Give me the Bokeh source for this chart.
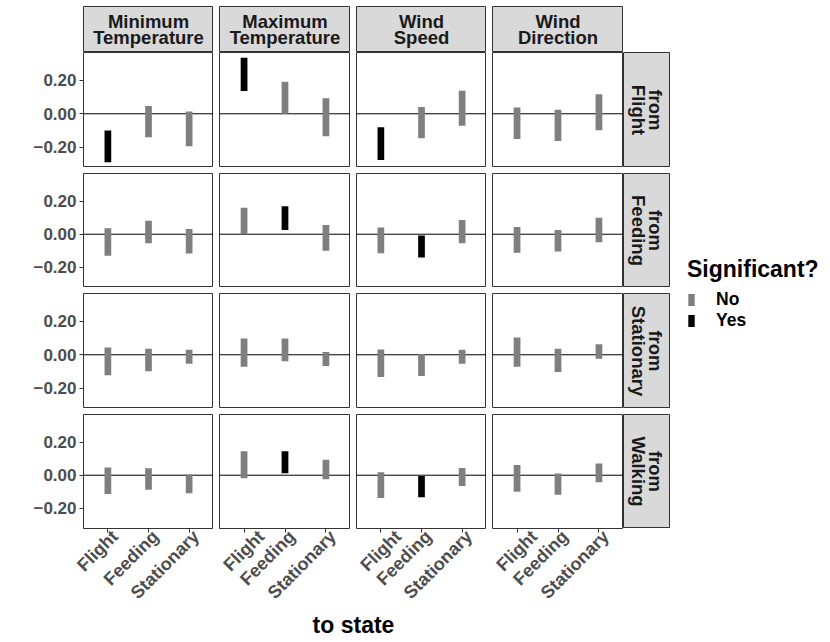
import math
from bokeh.plotting import figure
from bokeh.models import (Range1d, Span, FixedTicker, ColumnDataSource,
                          Legend, LegendItem, Spacer, LinearAxis)
from bokeh.layouts import row, column
from bokeh.embed import file_html
from bokeh.resources import INLINE
from bokeh.core.properties import value

# ---------------- data ----------------
to_states = ["Flight", "Feeding", "Stationary"]
from_states = ["Flight", "Feeding", "Stationary", "Walking"]
covariates = ["Minimum Temperature", "Maximum Temperature", "Wind Speed", "Wind Direction"]
y_ticks = [-0.2, 0.0, 0.2]
y_tick_labels = ["\u22120.20", "0.00", "0.20"]
sig_levels = ["No", "Yes"]

# per from-state: one list per covariate (values for to-states Flight, Feeding, Stationary)
lower_from_flight = [[-0.290, -0.140, -0.194], [0.136, 0.000, -0.134],
                     [-0.276, -0.146, -0.072], [-0.150, -0.162, -0.098]]
upper_from_flight = [[-0.100, 0.046, 0.014], [0.334, 0.192, 0.092],
                     [-0.080, 0.040, 0.138], [0.038, 0.024, 0.116]]
sig_from_flight = [["Yes", "No", "No"], ["Yes", "No", "No"],
                   ["Yes", "No", "No"], ["No", "No", "No"]]

lower_from_feeding = [[-0.130, -0.054, -0.116], [0.000, 0.026, -0.100],
                      [-0.114, -0.140, -0.054], [-0.112, -0.104, -0.048]]
upper_from_feeding = [[0.036, 0.082, 0.032], [0.160, 0.168, 0.056],
                      [0.040, -0.008, 0.086], [0.044, 0.026, 0.100]]
sig_from_feeding = [["No", "No", "No"], ["No", "Yes", "No"],
                    ["No", "Yes", "No"], ["No", "No", "No"]]

lower_from_stationary = [[-0.123, -0.099, -0.053], [-0.071, -0.038, -0.067],
                         [-0.133, -0.127, -0.053], [-0.071, -0.103, -0.024]]
upper_from_stationary = [[0.044, 0.036, 0.030], [0.097, 0.097, 0.016],
                         [0.032, 0.004, 0.030], [0.103, 0.036, 0.063]]
sig_from_stationary = [["No", "No", "No"], ["No", "No", "No"],
                       ["No", "No", "No"], ["No", "No", "No"]]

lower_from_walking = [[-0.113, -0.087, -0.109], [-0.018, 0.012, -0.024],
                      [-0.137, -0.133, -0.065], [-0.099, -0.117, -0.042]]
upper_from_walking = [[0.046, 0.042, 0.004], [0.145, 0.145, 0.093],
                      [0.018, -0.004, 0.044], [0.061, 0.010, 0.071]]
sig_from_walking = [["No", "No", "No"], ["No", "Yes", "No"],
                    ["No", "Yes", "No"], ["No", "No", "No"]]

lower_all = [lower_from_flight, lower_from_feeding, lower_from_stationary, lower_from_walking]
upper_all = [upper_from_flight, upper_from_feeding, upper_from_stationary, upper_from_walking]
sig_all = [sig_from_flight, sig_from_feeding, sig_from_stationary, sig_from_walking]

# ---------------- style ----------------
FONT = "Liberation Sans"
SIG_COLORS = {"No": "#7F7F7F", "Yes": "#000000"}
COL_W = [130, 131, 130, 131]
ROW_H = [115, 114, 115, 114]
LEFT_AXIS_W = 83
BOTTOM_AXIS_H = 82
GAP = 6
TOP_PAD = 6
STRIP_TOP_H = 46
STRIP_RIGHT_W = 47
LEGEND_GAP = 17
LEGEND_TOP = 256
Y_MIN, Y_MAX = -0.321, 0.366
PAD = 0.6                # discrete-scale expansion on each side (in category units)
BAR_W = 0.165
LABEL_SHIFT_PX = 7       # rotated labels are anchored by their top corner
TICK_COLOR = "#333333"
LABEL_COLOR = "#4D4D4D"
STRIP_FILL = "#D9D9D9"
BORDER = "#333333"

N_CAT = len(to_states)
cat_pos = [k + 1 for k in range(N_CAT)]       # discrete positions 1..n
label_of = {c: s for c, s in zip(cat_pos, to_states)}


def style_axis(ax, size):
    ax.axis_line_color = None
    ax.major_tick_line_color = TICK_COLOR
    ax.major_tick_out = 4
    ax.major_tick_in = 0
    ax.minor_tick_line_color = None
    ax.major_label_text_font = FONT
    ax.major_label_text_font_style = "bold"
    ax.major_label_text_font_size = size
    ax.major_label_text_color = LABEL_COLOR
    ax.major_label_standoff = 3


def make_panel(lo, hi, sig, w, h, left, bottom):
    x0, x1 = 1 - PAD, N_CAT + PAD
    p = figure(x_range=Range1d(x0, x1), y_range=Range1d(Y_MIN, Y_MAX),
               frame_width=w, frame_height=h,
               output_backend="svg", toolbar_location=None,
               x_axis_location="below" if bottom else None,
               y_axis_location="left" if left else None,
               min_border=0,
               min_border_left=LEFT_AXIS_W if left else 0,
               min_border_bottom=BOTTOM_AXIS_H if bottom else 0)
    p.background_fill_color = "white"
    p.border_fill_color = "white"
    p.outline_line_color = BORDER
    p.outline_line_width = 1
    p.grid.grid_line_color = None
    src = ColumnDataSource(dict(x=cat_pos, state=to_states, bottom=lo, top=hi,
                                color=[SIG_COLORS[s] for s in sig]))
    p.add_layout(Span(location=0, dimension="width", line_color="black",
                      line_width=1, level="underlay"))
    p.vbar(x="x", bottom="bottom", top="top", width=BAR_W, color="color",
           line_color=None, source=src)
    if left:
        ax = p.yaxis[0]
        ax.ticker = FixedTicker(ticks=y_ticks)
        ax.major_label_overrides = {t: l for t, l in zip(y_ticks, y_tick_labels)}
        style_axis(ax, "17px")
    if bottom:
        # axis with the tick marks only
        ax = p.xaxis[0]
        ax.ticker = FixedTicker(ticks=cat_pos)
        style_axis(ax, "0px")
        ax.major_label_standoff = 0
        ax.major_label_text_alpha = 0
        # label axis, nudged so the rotated labels end at the tick (top-right anchoring)
        d = LABEL_SHIFT_PX / (w / (x1 - x0))
        p.extra_x_ranges = {"lab": Range1d(x0 - d, x1 - d)}
        lab = LinearAxis(x_range_name="lab", ticker=FixedTicker(ticks=cat_pos),
                         major_label_overrides=label_of)
        style_axis(lab, "18px")
        lab.major_tick_out = 0
        lab.major_tick_line_color = None
        lab.major_label_standoff = 1
        lab.major_label_orientation = math.pi / 4
        p.add_layout(lab, "below")
    return p


def make_strip(label, w, h, angle):
    s = figure(width=w, height=h, x_range=Range1d(0, 1), y_range=Range1d(0, 1),
               output_backend="svg", toolbar_location=None,
               x_axis_location=None, y_axis_location=None, min_border=0)
    s.grid.grid_line_color = None
    s.background_fill_color = STRIP_FILL
    s.border_fill_color = "white"
    s.outline_line_color = BORDER
    s.outline_line_width = 1
    s.text(x=[0.5], y=[0.5], text=[label], angle=angle,
           text_align="center", text_baseline="middle",
           text_font=value(FONT), text_font_style="bold",
           text_font_size="18.5px", text_color="#1A1A1A", text_line_height=0.77)
    return s


def make_text_fig(label, w, h, x, y, align, size):
    t = figure(width=w, height=h, x_range=Range1d(0, w), y_range=Range1d(0, h),
               output_backend="svg", toolbar_location=None,
               x_axis_location=None, y_axis_location=None, min_border=0)
    t.grid.grid_line_color = None
    t.outline_line_color = None
    t.text(x=[x], y=[y], text=[label], text_align=align, text_baseline="alphabetic",
           text_font=value(FONT), text_font_style="bold", text_font_size=size,
           text_color="black")
    return t


# top strips
top_strips = [make_strip(c.replace(" ", "\n"), COL_W[j], STRIP_TOP_H, 0)
              for j, c in enumerate(covariates)]
top_row = row(Spacer(width=LEFT_AXIS_W - GAP, height=STRIP_TOP_H), *top_strips, spacing=GAP)

panel_rows = []
right_strips = []
for i, fs in enumerate(from_states):
    bottom = i == len(from_states) - 1
    figs = [make_panel(lower_all[i][j], upper_all[i][j], sig_all[i][j],
                       COL_W[j], ROW_H[i], left=(j == 0), bottom=bottom)
            for j in range(len(covariates))]
    panel_rows.append(row(*figs, spacing=GAP))
    right_strips.append(make_strip("from\n" + fs, STRIP_RIGHT_W, ROW_H[i], -math.pi / 2))

grid = column(column(Spacer(width=1, height=TOP_PAD), top_row, panel_rows[0], spacing=0),
              *panel_rows[1:], spacing=GAP)

# x axis title
title_w = sum(COL_W) + 3 * GAP
tfig = make_text_fig("to state", title_w, 30, title_w / 2, 17.3, "center", "23px")
title_row = row(Spacer(width=LEFT_AXIS_W, height=30), tfig)

main = column(grid, title_row, spacing=0)
strips_col = column(Spacer(width=STRIP_RIGHT_W, height=TOP_PAD + STRIP_TOP_H - GAP),
                    *right_strips, spacing=GAP)

# legend
lf = figure(frame_width=140, frame_height=80, x_range=Range1d(0, 1), y_range=Range1d(0, 1),
            output_backend="svg", toolbar_location=None,
            x_axis_location=None, y_axis_location=None,
            min_border=0, min_border_left=LEGEND_GAP)
lf.grid.grid_line_color = None
lf.outline_line_color = None
items = []
for lev in sig_levels:
    r = lf.vbar(x=[0.5], top=[0], bottom=[0], width=0.1, fill_color=SIG_COLORS[lev],
                line_color=None)
    items.append(LegendItem(label=lev, renderers=[r]))
legend = Legend(items=items, title="Significant?", location="top_left",
                title_text_font=FONT, title_text_font_style="bold",
                title_text_font_size="23px", title_text_color="black",
                title_standoff=6,
                label_text_font=FONT, label_text_font_style="bold",
                label_text_font_size="17.5px", label_text_color="black",
                glyph_width=8, glyph_height=15, label_height=15, spacing=0,
                label_standoff=21, padding=0, margin=0,
                border_line_color=None, background_fill_alpha=0)
lf.add_layout(legend)
legend_col = column(Spacer(width=10, height=LEGEND_TOP), lf)

layout = row(main, strips_col, legend_col)

open("out.html", "w").write(file_html(layout, INLINE))
